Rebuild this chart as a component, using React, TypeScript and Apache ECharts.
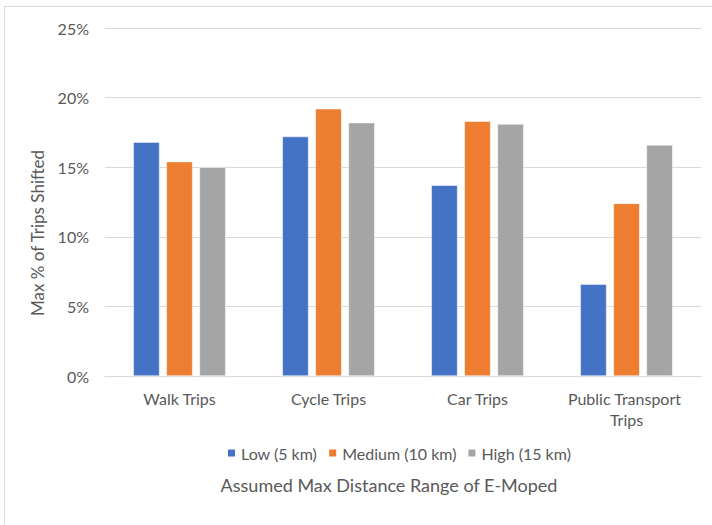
import React, { useEffect, useRef } from "react";
import * as echarts from "echarts";

const categories = ["Walk Trips", "Cycle Trips", "Car Trips", "Public Transport Trips"];
const seriesNames = ["Low (5 km)", "Medium (10 km)", "High (15 km)"];
const lowValues = [16.8, 17.2, 13.7, 6.6];
const mediumValues = [15.4, 19.2, 18.3, 12.4];
const highValues = [15.0, 18.2, 18.1, 16.6];
const colors = ["#4472C4", "#ED7D31", "#A5A5A5"];
const yTitle = "Max % of Trips Shifted";
const xTitle = "Assumed Max Distance Range of E-Moped";

const FONT = "Lato, 'Open Sans', sans-serif";
const TEXT = "#595959";

export default function App() {
  const ref = useRef<HTMLDivElement>(null);
  useEffect(() => {
    if (!ref.current) return;
    const chart = echarts.init(ref.current, null, { renderer: "svg" });
    const values = [lowValues, mediumValues, highValues];
    chart.setOption({
      animation: false,
      backgroundColor: "#ffffff",
      textStyle: { fontFamily: FONT },
      grid: { left: 105, right: 11, top: 28, bottom: 149 },
      legend: {
        data: seriesNames,
        left: 221,
        top: 440,
        itemWidth: 9,
        itemHeight: 9,
        itemGap: 10,
        icon: "rect",
        textStyle: { color: TEXT, fontSize: 16, fontFamily: FONT },
      },
      xAxis: {
        type: "category",
        data: categories,
        axisLine: { lineStyle: { color: "#D9D9D9", width: 1 } },
        axisTick: { show: false },
        axisLabel: {
          color: TEXT,
          fontSize: 16,
          fontFamily: FONT,
          interval: 0,
          margin: 12,
          lineHeight: 21,
          width: 140,
          overflow: "break",
        },
      },
      yAxis: {
        type: "value",
        min: 0,
        max: 25,
        interval: 5,
        axisLine: { show: false },
        axisTick: { show: false },
        splitLine: { lineStyle: { color: "#D9D9D9", width: 1 } },
        axisLabel: {
          color: TEXT,
          fontSize: 16,
          fontFamily: FONT,
          margin: 16,
          formatter: (v: number) => `${v}%`,
        },
      },
      series: seriesNames.map((name, i) => ({
        name,
        type: "bar",
        data: values[i],
        barGap: "26%",
        barCategoryGap: "38%",
        itemStyle: { color: colors[i], borderColor: "#ffffff", borderWidth: 0.5 },
      })),
      graphic: [
        {
          type: "line",
          shape: { x1: 4.5, y1: 6.5, x2: 712, y2: 6.5 },
          style: { stroke: "#D9D9D9", lineWidth: 1 },
        },
        {
          type: "line",
          shape: { x1: 4.5, y1: 6.5, x2: 4.5, y2: 525 },
          style: { stroke: "#D9D9D9", lineWidth: 1 },
        },
        {
          type: "text",
          x: 37,
          y: 233,
          rotation: Math.PI / 2,
          style: {
            text: yTitle,
            fill: TEXT,
            fontSize: 17,
            fontFamily: FONT,
            textAlign: "center",
            textVerticalAlign: "middle",
          },
        },
        {
          type: "text",
          x: 389,
          y: 485,
          style: {
            text: xTitle,
            fill: TEXT,
            fontSize: 18,
            fontFamily: FONT,
            textAlign: "center",
            textVerticalAlign: "middle",
          },
        },
      ],
    });
    return () => chart.dispose();
  }, []);
  return <div ref={ref} style={{ width: 712, height: 525, position: "absolute", left: 0, top: 0 }} />;
}
